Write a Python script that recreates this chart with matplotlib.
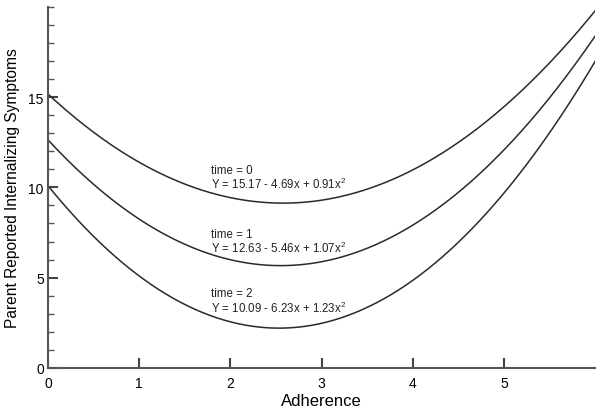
import numpy as np
import matplotlib
matplotlib.use("Agg")
import matplotlib.pyplot as plt
from matplotlib.ticker import MultipleLocator

# quadratic fits shown on the chart: Y = a + b*x + c*x^2
times = [0, 1, 2]
intercepts = [15.17, 12.63, 10.09]
linear = [-4.69, -5.46, -6.23]
quadratic = [0.91, 1.07, 1.23]
label_y = [10.55, 7.0, 3.7]

plt.rcParams['font.family'] = ['Liberation Sans', 'DejaVu Sans']
plt.rcParams['mathtext.default'] = 'regular'

fig = plt.figure(figsize=(6.04, 4.14), dpi=100)
ax = fig.add_axes([0.0795, 0.109, 0.906, 0.872])

x = np.linspace(0, 6, 300)
for t, a, b, c, ly in zip(times, intercepts, linear, quadratic, label_y):
    ax.plot(x, a + b * x + c * x ** 2, color='#2a2a2a', lw=1.1)
    ax.text(1.79, ly, f"time = {t}\nY = {a:.2f} - {abs(b):.2f}x + {c:.2f}x$^2$",
            fontsize=8.3, color='#222222', linespacing=1.05, va='center')

ax.set_xlim(0, 6)
ax.set_ylim(0, 20)
ax.set_xticks([0, 1, 2, 3, 4, 5])
ax.set_yticks([0, 5, 10, 15])
ax.yaxis.set_minor_locator(MultipleLocator(1))
ax.tick_params(axis='both', direction='in', length=7, width=1.5, color='#444444',
               labelsize=10)
ax.tick_params(axis='x', pad=6)
ax.tick_params(axis='y', pad=3)
ax.tick_params(axis='y', which='minor', direction='in', length=4, width=1, color='#555555')
for side in ['top', 'right']:
    ax.spines[side].set_visible(False)
for side in ['left', 'bottom']:
    ax.spines[side].set_linewidth(1.5)
    ax.spines[side].set_color('#555555')

ax.set_xlabel('Adherence', fontsize=12, labelpad=2)
ax.set_ylabel('Parent Reported Internalizing Symptoms', fontsize=11.2, labelpad=6)

fig.savefig('out.png', dpi=100)
